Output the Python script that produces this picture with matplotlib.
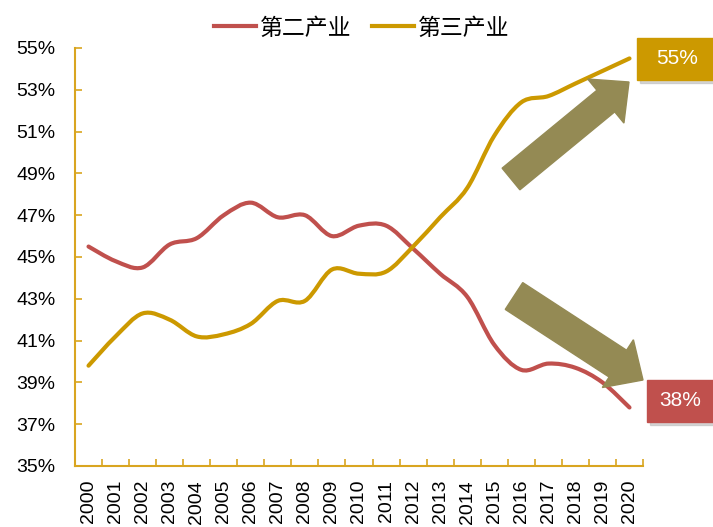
import numpy as np
import matplotlib.pyplot as plt
from matplotlib.path import Path
from matplotlib.patches import PathPatch, FancyArrow, Rectangle
from matplotlib.lines import Line2D

plt.rcParams['font.family'] = ['Liberation Sans', 'Noto Sans CJK SC', 'DejaVu Sans']

years = [str(y) for y in range(2000, 2021)]
secondary = [45.5, 44.8, 44.5, 45.6, 45.9, 47.0, 47.6, 46.9, 47.0, 46.0, 46.5,
             46.5, 45.4, 44.2, 43.1, 40.8, 39.6, 39.9, 39.7, 39.0, 37.8]
tertiary = [39.8, 41.2, 42.3, 42.0, 41.2, 41.3, 41.8, 42.9, 42.9, 44.4, 44.2,
            44.3, 45.5, 46.9, 48.3, 50.8, 52.4, 52.7, 53.3, 53.9, 54.5]
names = ['第二产业', '第三产业']
colors = ['#C0504D', '#CC9900']
yticks = list(range(35, 56, 2))

RED = '#C0504D'
GOLD = '#CC9900'
AXIS = '#D9A520'
OLIVE = '#948A54'


def smooth_path(xs, ys):
    # Excel style smoothed line: cubic bezier through the points
    pts = np.column_stack([xs, ys]).astype(float)
    n = len(pts)
    verts = [pts[0]]
    codes = [Path.MOVETO]
    for i in range(n - 1):
        p0 = pts[max(i - 1, 0)]
        p1 = pts[i]
        p2 = pts[i + 1]
        p3 = pts[min(i + 2, n - 1)]
        c1 = p1 + (p2 - p0) / 6.0
        c2 = p2 - (p3 - p1) / 6.0
        verts += [c1, c2, p2]
        codes += [Path.CURVE4] * 3
    return Path(verts, codes)


fig = plt.figure(figsize=(7.13, 5.27), dpi=100)
ax = fig.add_axes([75 / 713, 1 - 466 / 527, 568 / 713, 418 / 527])

x = np.arange(len(years))
for vals, c in zip([secondary, tertiary], colors):
    ax.add_patch(PathPatch(smooth_path(x, vals), fill=False, edgecolor=c,
                           lw=3, capstyle='round', zorder=3))

ax.set_xlim(-0.5, len(years) - 0.5)
ax.set_ylim(35, 55)
ax.set_yticks(yticks)
ax.set_yticklabels([f'{v}%' for v in yticks])
ax.set_xticks(x)
ax.set_xticklabels(years, rotation=90)
ax.set_xticks(np.arange(-0.5, len(years)), minor=True)

for s in ['top', 'right']:
    ax.spines[s].set_visible(False)
for s in ['left', 'bottom']:
    ax.spines[s].set_color(AXIS)
    ax.spines[s].set_linewidth(1.5)

ax.tick_params(axis='y', direction='in', length=5, width=1.2, color=AXIS,
               labelsize=14, pad=14)
ax.tick_params(axis='x', which='major', length=0, labelsize=14, pad=10)
ax.tick_params(axis='x', which='minor', direction='in', length=5, width=1.2,
               color=AXIS)

handles = [Line2D([], [], color=c, lw=3) for c in colors]
fig.legend(handles, names, loc='center', bbox_to_anchor=(362 / 713, 1 - 28 / 527),
           ncol=2, frameon=False, handlelength=1.8,
           handletextpad=0.2, columnspacing=0.9,
           prop={'family': ['Noto Sans CJK SC'], 'size': 16.5})

# trend arrows (figure inches)
fig.add_artist(FancyArrow(5.11, 3.48, 1.18, 0.97, width=0.28, head_width=0.57,
                          head_length=0.3, length_includes_head=True,
                          color=OLIVE, transform=fig.dpi_scale_trans, zorder=4))
fig.add_artist(FancyArrow(5.14, 2.31, 1.29, -0.84, width=0.32, head_width=0.57,
                          head_length=0.3, length_includes_head=True,
                          color=OLIVE, transform=fig.dpi_scale_trans, zorder=4))

# value boxes
for (x0, y0, w, h), tx, c, txt in [((637, 38, 80, 42), 677, GOLD, '55%'),
                                   ((647, 380, 70, 42), 680, RED, '38%')]:
    fig.add_artist(Rectangle((x0 + 3, 527 - y0 - h - 3), w, h, color='#BBBBBB',
                             alpha=0.6, transform=None, zorder=5))
    fig.add_artist(Rectangle((x0, 527 - y0 - h), w, h, color=c,
                             transform=None, zorder=6))
    fig.text(tx / 713, 1 - (y0 + h / 2) / 527, txt, color='white',
             fontsize=15, ha='center', va='center', zorder=7)

fig.savefig('out.png', dpi=100)
